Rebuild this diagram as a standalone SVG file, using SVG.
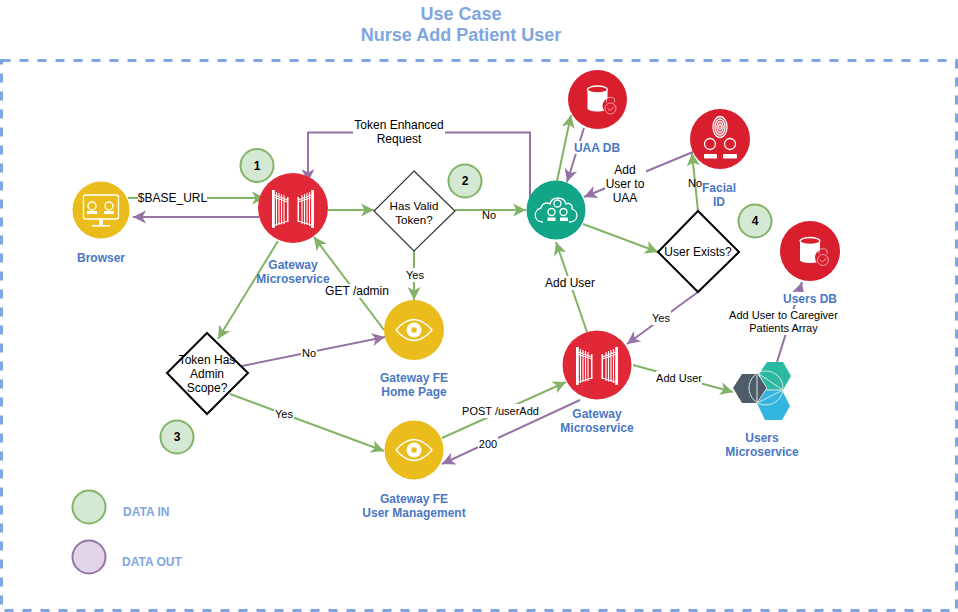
<svg xmlns="http://www.w3.org/2000/svg" xmlns:xlink="http://www.w3.org/1999/xlink" width="958" height="612" viewBox="0 0 958 612">
<style>
text{font-family:"Liberation Sans",Arial,sans-serif;text-anchor:middle;dominant-baseline:central}
.t{font-size:18px;font-weight:bold;fill:#7EA6E0}
.n{font-size:12px;font-weight:bold;fill:#4A78C4}
.l{font-size:12px;fill:#000}
.m{font-size:11px;fill:#000}
.s{font-size:12px;font-weight:bold;fill:#000}
.k{font-size:12px;font-weight:bold;fill:#7EA6E0;text-anchor:start}
.g{fill:none;stroke:#82B366;stroke-width:2;marker-end:url(#ag)}
.p{fill:none;stroke:#9673A6;stroke-width:2;marker-end:url(#ap)}
.bg{fill:#fff}
.st{fill:#D5E8D4;stroke:#82B366;stroke-width:2}
.dm{fill:#fff;stroke:#000;stroke-width:2}
.w{fill:none;stroke:#fff;stroke-width:1.3}
.wf{fill:#fff;stroke:none}
</style>
<defs>
<marker id="ag" markerUnits="userSpaceOnUse" markerWidth="15" markerHeight="15" refX="13" refY="7.500" orient="auto"><path d="M0 1 L13 7.500 L0 14 L3.500 7.500 Z" fill="#82B366"/></marker>
<marker id="ap" markerUnits="userSpaceOnUse" markerWidth="15" markerHeight="15" refX="13" refY="7.500" orient="auto"><path d="M0 1 L13 7.500 L0 14 L3.500 7.500 Z" fill="#9673A6"/></marker>
<g id="leaf"><rect x="-21" y="-18" width="2.800" height="38" fill="#fff"/><rect x="-6" y="-11" width="1.500" height="25" fill="#fff"/><path d="M-18.500 -13 L-5 -8 M-18.500 -10.500 L-5 -6 M-18.500 17 L-5 13 M-16.500 -16 V18 M-14 -15 V17 M-11.500 -14 V16.500 M-9 -13 V16" fill="none" stroke="#fff" stroke-width="1.100"/></g>
<g id="gate"><use xlink:href="#leaf" href="#leaf"/><use xlink:href="#leaf" href="#leaf" transform="scale(-1 1)"/></g>
<g id="eye"><path d="M-18 0 Q0 -21 18 0 Q0 21 -18 0 Z" class="w"/><circle r="7.500" fill="#fff"/><circle r="2.800" fill="#EABD1C"/></g>
<g id="db"><path d="M-10 -10 V9 C-10 13 10 13 10 9 V-10 Z" class="wf"/><ellipse cx="0" cy="-10" rx="10" ry="3.500" fill="#D91F2E" stroke="#fff" stroke-width="1.300"/><circle cx="13" cy="6.500" r="8" fill="#D91F2E"/><circle cx="13" cy="9" r="5.500" fill="none" stroke="#fff" stroke-width=".7" opacity=".8"/><path d="M9 3 V0 C9 -3 17 -3 17 0 V3 M10 9 L12.500 11 L16.500 7" fill="none" stroke="#fff" stroke-width=".7" opacity=".8"/></g>
</defs>

<g id="title"><text class="t" x="461" y="13.500">Use Case</text><text class="t" x="461" y="34.500">Nurse Add Patient User</text></g>
<rect id="frame" x="1.500" y="60.500" width="955" height="550" fill="none" stroke="#7EA6E0" stroke-width="3" stroke-dasharray="9 9"/>

<g id="connectors">
<path class="g" d="M128 198 H265"/>
<path class="p" d="M259 217 H133"/>
<path class="p" d="M530 223 V132.500 H308 V182"/>
<path class="g" d="M328 210 H374"/>
<path class="g" d="M455 210 H526"/>
<path class="g" d="M414 251 V300"/>
<path class="g" d="M384 330 L314 237"/>
<path class="g" d="M278 241 L218 339"/>
<path class="p" d="M242 366 L385 337"/>
<path class="g" d="M230 394 L384 451"/>
<path class="g" d="M442 438 L566 382"/>
<path class="p" d="M580 400 L442 464"/>
<path class="g" d="M587 332 L556 242"/>
<path class="g" d="M583 224 L658 252"/>
<path class="p" d="M698 292 L627 344"/>
<path class="g" d="M698 211 L692 153"/>
<path class="p" d="M693 152 L584 197"/>
<path class="g" d="M557 181 L571 115"/>
<path class="p" d="M584 128 L567 182"/>
<path class="g" d="M633 365 L733 392"/>
<path class="p" d="M777 362 L802 282"/>

<rect class="bg" x="138" y="191" width="69" height="14"/><text class="l" x="172.500" y="198">$BASE_URL</text>
<rect class="bg" x="353" y="118" width="92" height="28"/><text class="l" x="399" y="125">Token Enhanced</text><text class="l" x="399" y="139">Request</text>
<text class="m" x="489" y="215">No</text>
<rect class="bg" x="405" y="268" width="19" height="14"/><text class="m" x="415" y="275">Yes</text>
<rect class="bg" x="325" y="284" width="64" height="14"/><text class="l" x="357" y="291">GET /admin</text>
<rect class="bg" x="301" y="346" width="16" height="14"/><text class="m" x="309" y="353">No</text>
<rect class="bg" x="274" y="407" width="20" height="14"/><text class="m" x="284" y="414">Yes</text>
<rect class="bg" x="462" y="404" width="77" height="14"/><text class="m" x="500.500" y="411">POST /userAdd</text>
<rect class="bg" x="478" y="437" width="20" height="14"/><text class="m" x="488" y="444">200</text>
<rect class="bg" x="544" y="276" width="52" height="14"/><text class="l" x="570" y="283">Add User</text>
<rect class="bg" x="651" y="311" width="20" height="14"/><text class="m" x="661" y="318">Yes</text>
<text class="m" x="695" y="183">No</text>
<rect class="bg" x="605" y="163" width="41" height="42"/><text class="l" x="625" y="170">Add</text><text class="l" x="625" y="184">User to</text><text class="l" x="625" y="198">UAA</text>
<rect class="bg" x="656" y="371" width="46" height="14"/><text class="m" x="679" y="378">Add User</text>
<rect class="bg" x="729" y="309" width="109" height="26"/><text class="m" x="783.500" y="315">Add User to Caregiver</text><text class="m" x="783.500" y="328">Patients Array</text>
</g>

<g id="browser"><circle cx="101" cy="210" r="28.500" fill="#EABD1C"/>
<rect x="83.500" y="195" width="35" height="24" rx="2" class="w"/><circle cx="92" cy="206" r="4" class="w"/><circle cx="109" cy="206" r="4" class="w"/><rect x="87" y="211" width="10" height="3" class="wf"/><rect x="104" y="211" width="10" height="3" class="wf"/><rect x="99" y="219" width="4" height="6" class="wf"/><rect x="92" y="225" width="18" height="1.600" class="wf"/>
<text class="n" x="101" y="258">Browser</text></g>

<g id="gateway1"><circle cx="293" cy="208" r="35" fill="#E12836"/><use xlink:href="#gate" href="#gate" x="293" y="208"/>
<text class="n" x="293" y="265">Gateway</text><text class="n" x="293" y="279">Microservice</text></g>

<g id="has-valid-token"><path d="M414 171 L455 211 L414 251 L374 211 Z" fill="#fff" stroke="#333" stroke-width="1.200"/><text class="l" x="414" y="205" style="font-size:11.600px">Has Valid</text><text class="l" x="414" y="219" style="font-size:11.600px">Token?</text></g>

<g id="token-admin"><path class="dm" d="M207 333 L248 373 L207 414 L167 373 Z"/><text class="l" x="207" y="360">Token Has</text><text class="l" x="207" y="374">Admin</text><text class="l" x="207" y="388">Scope?</text></g>

<g id="user-exists"><path class="dm" d="M698 211 L739 252 L698 292 L658 252 Z"/><text class="l" x="698" y="252">User Exists?</text></g>

<g id="fe-home"><circle cx="414" cy="330" r="30" fill="#EABD1C"/><use xlink:href="#eye" href="#eye" x="414" y="330"/><text class="n" x="414" y="378">Gateway FE</text><text class="n" x="414" y="392">Home Page</text></g>

<g id="fe-user"><circle cx="414" cy="450" r="29.500" fill="#EABD1C"/><use xlink:href="#eye" href="#eye" x="414" y="450"/><text class="n" x="414" y="499">Gateway FE</text><text class="n" x="414" y="513">User Management</text></g>

<g id="uaa"><circle cx="556" cy="210" r="29.500" fill="#12A587"/>
<path d="M543 222 C533 222 533 210 541 208 C542 203 547 202 550 204 C552 196 564 196 566 204 C569 202 573 205 572 209 C579 211 579 222 569 222" class="w" stroke-width="1.600"/><circle cx="557.500" cy="203.500" r="3.500" class="w"/><circle cx="551.500" cy="212" r="3.500" class="w"/><circle cx="563.500" cy="212" r="3.500" class="w"/><rect x="547.500" y="217.500" width="8" height="3.500" class="wf"/><rect x="560" y="217.500" width="8" height="3.500" class="wf"/></g>

<g id="uaa-db"><circle cx="597.500" cy="99.500" r="29.500" fill="#D91F2E"/><use xlink:href="#db" href="#db" x="597.500" y="99.500"/><rect class="bg" x="574" y="141" width="47" height="13"/><text class="n" x="597" y="147.500">UAA DB</text></g>

<g id="facial-id"><circle cx="720" cy="139" r="30" fill="#D91F2E"/>
<ellipse cx="720" cy="127" rx="7" ry="10.500" class="w"/><ellipse cx="720" cy="127" rx="5" ry="8" class="w" stroke-width=".8"/><ellipse cx="720" cy="127" rx="3" ry="5.500" class="w" stroke-width=".8"/><ellipse cx="720" cy="127" rx="1.200" ry="3" class="w" stroke-width=".8"/>
<circle cx="710" cy="144" r="5.500" class="w"/><circle cx="730" cy="144" r="5.500" class="w"/><rect x="704" y="154" width="13" height="4.500" rx="1" class="wf"/><rect x="723" y="154" width="14" height="4.500" rx="1" class="wf"/>
<text class="n" x="719" y="188">Facial</text><text class="n" x="719" y="202">ID</text></g>

<g id="gateway2"><circle cx="597" cy="365" r="34.500" fill="#E12836"/><use xlink:href="#gate" href="#gate" x="597" y="365"/><text class="n" x="597" y="414">Gateway</text><text class="n" x="597" y="428">Microservice</text></g>

<g id="users-ms"><path d="M759 374 L767 362 H783 L791 376 L783 390 H767 Z" fill="#2BB9A3"/><path d="M757 403 L766 390 H782 L790 406 L782 420 H765 Z" fill="#32B5DF"/><path d="M733 388 L742 374 H758 L767 388 L758 403 H742 Z" fill="#4D5C68"/>
<circle cx="766" cy="388" r="17" fill="none" stroke="#DDE6E6" stroke-width="1"/><path d="M759 374 L783 390 L757 403 M758 374 L767 388 L757 403 V375 M767 390 H783" fill="none" stroke="#DDE6E6" stroke-width="1"/>
<text class="n" x="762" y="438">Users</text><text class="n" x="762" y="452">Microservice</text></g>

<g id="users-db"><circle cx="810" cy="251" r="30" fill="#D91F2E"/><use xlink:href="#db" href="#db" x="810" y="251"/><rect class="bg" x="783" y="292" width="54" height="13"/><text class="n" x="810" y="299">Users DB</text></g>

<g id="step1"><circle class="st" cx="257" cy="165.500" r="16.500"/><text class="s" x="257" y="165.500">1</text></g>
<g id="step2"><circle class="st" cx="465" cy="181" r="16.500"/><text class="s" x="465" y="181">2</text></g>
<g id="step3"><circle class="st" cx="177" cy="437" r="16.500"/><text class="s" x="177" y="437">3</text></g>
<g id="step4"><circle class="st" cx="755" cy="221" r="16.500"/><text class="s" x="755" y="221">4</text></g>

<g id="legend-in"><circle class="st" cx="89" cy="507" r="16.500"/><text class="k" x="123" y="512">DATA IN</text></g>
<g id="legend-out"><circle cx="89" cy="557" r="16.500" fill="#E1D5E7" stroke="#9673A6" stroke-width="2"/><text class="k" x="122" y="562">DATA OUT</text></g>
</svg>
